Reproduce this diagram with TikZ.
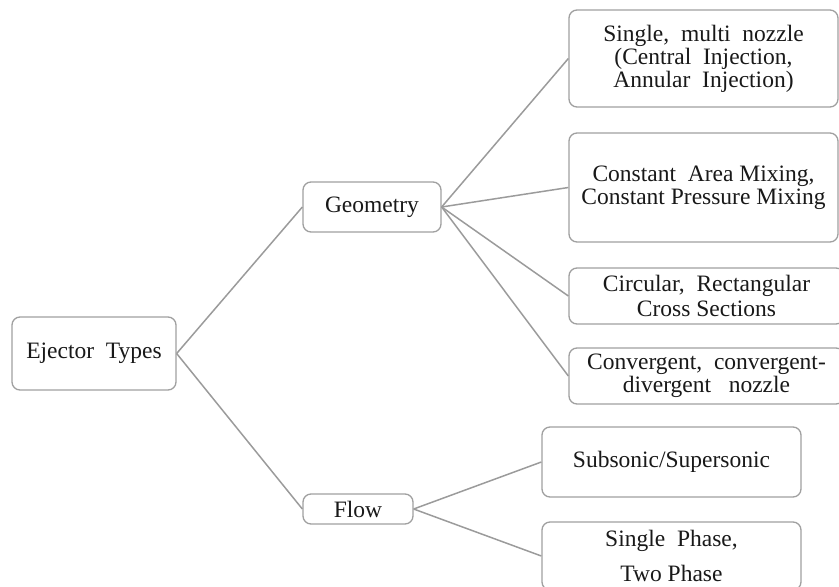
\documentclass[tikz,border=0pt]{standalone}
\usepackage{fontspec}
\setmainfont{Liberation Serif}
\definecolor{boxgray}{RGB}{160,160,160}
\definecolor{linegray}{RGB}{155,155,155}
\definecolor{inkgray}{RGB}{25,25,25}
\tikzset{
	box/.style={draw=boxgray, line width=1.3pt, rounded corners=8pt, fill=white, align=center, text=inkgray, inner sep=0pt, font=\fontsize{23.5}{23}\selectfont},
	link/.style={draw=linegray, line width=1.5pt}
}

\begin{document}
\begin{tikzpicture}[x=1pt, y=-1pt]
		\useasboundingbox (0,0) rectangle (839,587);
		\clip (0,0) rectangle (839,587);

		\node[box, minimum width=164pt, minimum height=73pt] (ejector) at (94, 353.5) {Ejector\ \ Types};

		\node[box, minimum width=138pt, minimum height=50pt] (geom) at (372, 207) {Geometry};
		\node[box, minimum width=110pt, minimum height=30pt] (flow) at (358, 509) {Flow};

		\node[box, minimum width=269pt, minimum height=97pt] (nozzle) at (703.5, 58.5) {Single,\ \ multi\ \ nozzle\\(Central\ \ Injection,\\Annular\ \ Injection)};
		\node[box, minimum width=269pt, minimum height=109pt] (mixing) at (703.5, 187.5) {Constant\ \ Area Mixing,\\Constant Pressure Mixing};
		\node[box, minimum width=275pt, minimum height=56pt, font=\fontsize{23.5}{25}\selectfont] (cross) at (706.5, 296) {Circular,\ \ Rectangular\\Cross Sections};
		\node[box, minimum width=275pt, minimum height=56pt] (conv) at (706.5, 376) {Convergent,\ \ convergent-\\divergent\ \ \ nozzle};

		\node[box, minimum width=259pt, minimum height=70pt] (subsonic) at (671.5, 462) {Subsonic/Supersonic};
		\node[box, minimum width=259pt, minimum height=68pt, font=\fontsize{23.5}{35}\selectfont] (phase) at (671.5, 556) {Single\ \ Phase,\\Two Phase};

		\draw[link] (ejector.east) -- (geom.west);
		\draw[link] (ejector.east) -- (flow.west);

		\draw[link] (geom.east) -- (nozzle.west);
		\draw[link] (geom.east) -- (mixing.west);
		\draw[link] (geom.east) -- (cross.west);
		\draw[link] (geom.east) -- (conv.west);

		\draw[link] (flow.east) -- (subsonic.west);
		\draw[link] (flow.east) -- (phase.west);
	\end{tikzpicture}
\end{document}
